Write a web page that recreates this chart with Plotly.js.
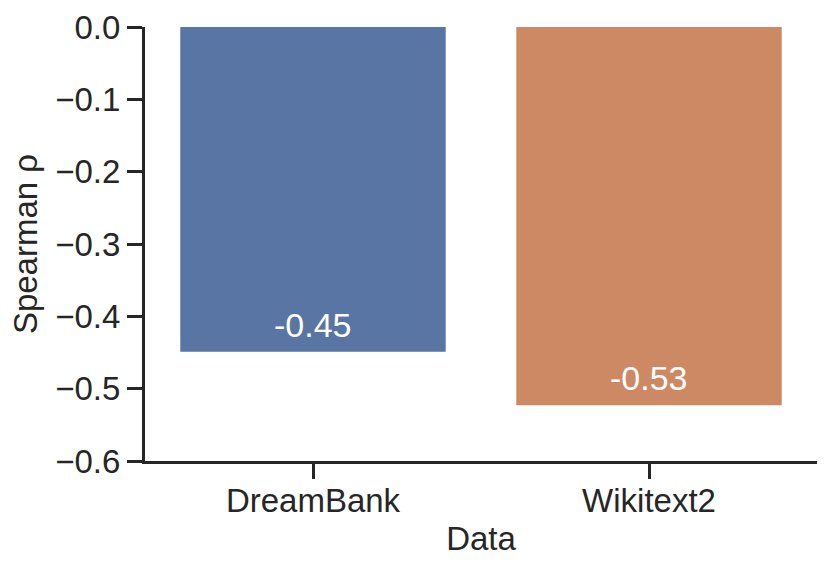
<!DOCTYPE html>
<html>
<head>
<meta charset="utf-8">
<script src="https://cdn.plot.ly/plotly-3.0.1.min.js"></script>
<style>
  html, body { margin: 0; padding: 0; background: #fff; }
  #chart { width: 830px; height: 572px; }
</style>
</head>
<body>
<div id="chart"></div>
<script>
// data
const datasets = ['DreamBank', 'Wikitext2'];
const spearman = [-0.449, -0.523];
const barLabels = ['-0.45', '-0.53'];
const barColors = ['#5975a4', '#cc8963'];

const ink = '#262626';
const fontFamily = '"Liberation Sans", Arial, sans-serif';

const trace = {
    type: 'bar',
    x: datasets,
    y: spearman,
    width: 0.79,
    marker: {color: barColors, line: {width: 0}},
    hoverinfo: 'x+y'
};

// value labels sit just above the bottom end of each bar
const annotations = datasets.map((d, i) => ({
    x: d,
    y: spearman[i],
    xref: 'x',
    yref: 'y',
    text: barLabels[i],
    showarrow: false,
    yanchor: 'bottom',
    yshift: 6,
    font: {family: fontFamily, size: 34, color: '#ffffff'}
}));

const layout = {
    width: 830,
    height: 572,
    margin: {l: 145, r: 13, t: 27, b: 111},
    paper_bgcolor: '#ffffff',
    plot_bgcolor: '#ffffff',
    showlegend: false,
    font: {family: fontFamily, size: 33, color: ink},
    xaxis: {
        type: 'category',
        range: [-0.5, 1.5],
        showline: true,
        linecolor: ink,
        linewidth: 3,
        ticks: 'outside',
        ticklen: 15,
        tickwidth: 3,
        tickcolor: ink,
        ticklabelstandoff: -7,
        showgrid: false,
        zeroline: false,
        tickfont: {family: fontFamily, size: 33, color: ink},
        title: {text: 'Data', standoff: 10, font: {family: fontFamily, size: 33, color: ink}}
    },
    yaxis: {
        range: [-0.6, 0],
        dtick: 0.1,
        tick0: 0,
        tickformat: '.1f',
        showline: true,
        linecolor: ink,
        linewidth: 3,
        ticks: 'outside',
        ticklen: 15,
        tickwidth: 3,
        tickcolor: ink,
        showgrid: false,
        zeroline: false,
        tickfont: {family: fontFamily, size: 33, color: ink},
        title: {text: 'Spearman ρ', standoff: 8, font: {family: fontFamily, size: 33, color: ink}}
    },
    annotations: annotations
};

Plotly.newPlot('chart', [trace], layout, {displayModeBar: false, staticPlot: true});
</script>
</body>
</html>
